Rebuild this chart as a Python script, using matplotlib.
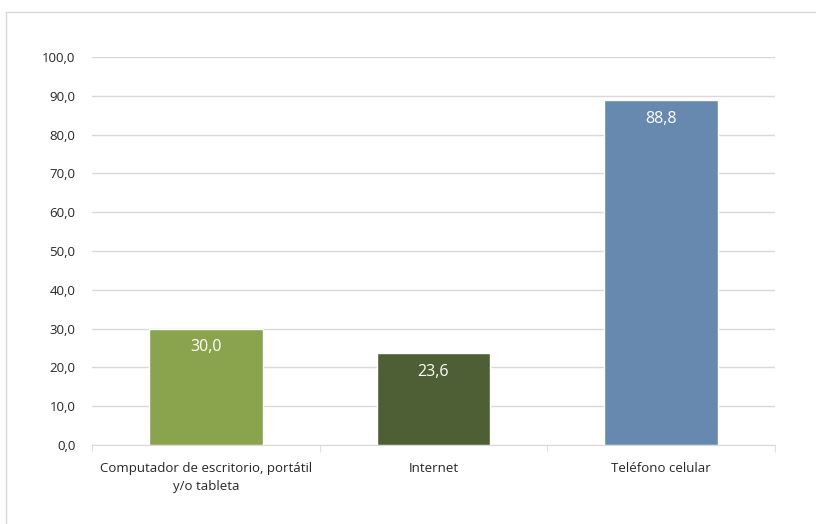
import matplotlib
matplotlib.use("Agg")
import matplotlib.pyplot as plt
from matplotlib.lines import Line2D
from matplotlib.ticker import FuncFormatter

categories = ["Computador de escritorio, portátil\ny/o tableta", "Internet", "Teléfono celular"]
values = [30.0, 23.6, 88.8]
colors = ["#8AA44E", "#4F5F35", "#6789B0"]
yticks = [0, 10, 20, 30, 40, 50, 60, 70, 80, 90, 100]

plt.rcParams['font.family'] = ['Open Sans', 'DejaVu Sans']

fig = plt.figure(figsize=(8.16, 5.24), dpi=100)
ax = fig.add_axes([92/816, 1-445/524, (775-92)/816, (445-57)/524])

x = list(range(len(categories)))
bars = ax.bar(x, values, width=0.5, color=colors, edgecolor="white", linewidth=1.0, zorder=3)
for xi, v in zip(x, values):
    ax.text(xi, v - 2.8, f"{v:.1f}".replace(".", ","), ha="center", va="top",
            color="white", fontsize=11.5, zorder=4)

ax.set_xlim(-0.5, 2.5)
ax.set_ylim(0, 100)
ax.set_yticks(yticks)
ax.yaxis.set_major_formatter(FuncFormatter(lambda v, p: f"{v:.1f}".replace(".", ",")))
ax.grid(axis="y", color="#D9D9D9", linewidth=1.0, zorder=0)
ax.set_xticks(x)
ax.set_xticklabels(categories, fontsize=9.5, color="#262626", linespacing=1.5)
ax.tick_params(axis="x", length=0, pad=12)
ax.tick_params(axis="y", length=0, pad=12, labelsize=9.5, labelcolor="#262626")
ax.set_xticks([-0.5, 0.5, 1.5, 2.5], minor=True)
ax.tick_params(axis="x", which="minor", length=5, color="#D9D9D9", direction="out")
for s in ["top", "right", "left"]:
    ax.spines[s].set_visible(False)
ax.spines["bottom"].set_color("#D9D9D9")

fig.add_artist(Line2D([6/816, 1.0], [1-12/524, 1-12/524], transform=fig.transFigure, color="#D9D9D9", linewidth=1))
fig.add_artist(Line2D([6/816, 6/816], [0, 1-12/524], transform=fig.transFigure, color="#D9D9D9", linewidth=1))

fig.savefig("out.png", dpi=100)
